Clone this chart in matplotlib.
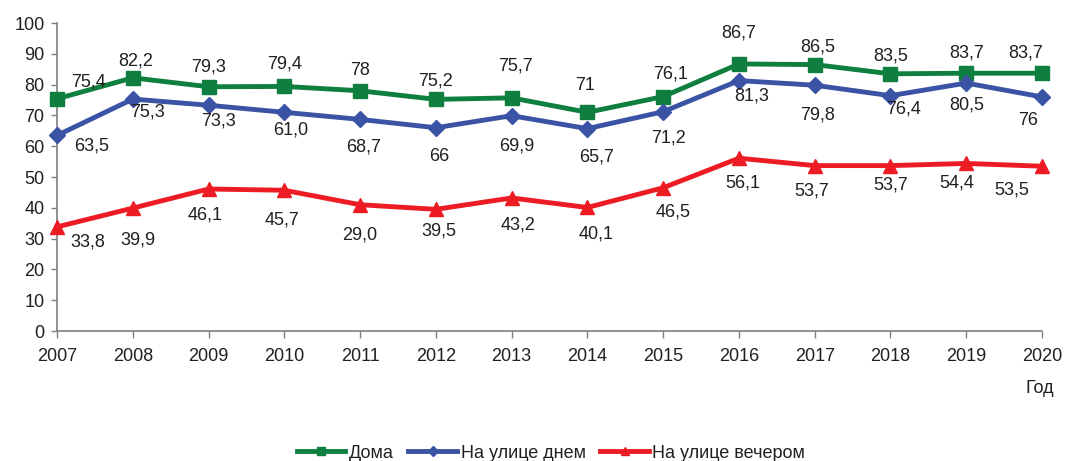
from matplotlib import pyplot as pp
from matplotlib import rc
from matplotlib.lines import Line2D

rc('font', **{'family': 'sans-serif', 'sans-serif': ['Liberation Sans', 'DejaVu Sans']})

years = [2007, 2008, 2009, 2010, 2011, 2012, 2013, 2014, 2015, 2016, 2017, 2018, 2019, 2020]

# values as plotted
home = [75.4, 82.2, 79.3, 79.4, 78.0, 75.2, 75.7, 71.0, 76.1, 86.7, 86.5, 83.5, 83.7, 83.7]
day = [63.5, 75.3, 73.3, 71.0, 68.7, 66.0, 69.9, 65.7, 71.2, 81.3, 79.8, 76.4, 80.5, 76.0]
evening = [33.8, 39.9, 46.1, 45.7, 41.0, 39.5, 43.2, 40.1, 46.5, 56.1, 53.7, 53.7, 54.4, 53.5]

# data labels as printed on the chart
homeLabels = ["75,4", "82,2", "79,3", "79,4", "78", "75,2", "75,7", "71", "76,1", "86,7", "86,5", "83,5", "83,7", "83,7"]
dayLabels = ["63,5", "75,3", "73,3", "61,0", "68,7", "66", "69,9", "65,7", "71,2", "81,3", "79,8", "76,4", "80,5", "76"]
eveningLabels = ["33,8", "39,9", "46,1", "45,7", "29,0", "39,5", "43,2", "40,1", "46,5", "56,1", "53,7", "53,7", "54,4", "53,5"]

seriesNames = ["Дома", "На улице днем", "На улице вечером"]

# label offsets in pixels (dx, dy), positive dy = up
homeOff = [(31, 17), (3, 17), (0, 20), (0, 22), (0, 20), (0, 18), (4, 32), (-2, 27), (7, 23),
           (0, 31), (3, 18), (0, 18), (0, 20), (-16, 20)]
dayOff = [(35, -11), (15, -13), (10, -16), (6, -18), (3, -28), (3, -29), (5, -30), (9, -28), (5, -26),
          (13, -15), (3, -30), (13, -13), (1, -22), (-14, -24)]
eveOff = [(31, -15), (5, -32), (-3, -26), (-2, -30), (0, -30), (3, -22), (6, -27), (9, -27), (10, -24),
          (4, -25), (-3, -25), (0, -19), (-9, -20), (-30, -24)]

green = '#0E7F3E'
blue = '#3A53A4'
red = '#ED1C24'
textColor = '#231F20'
fs = 13

fig = pp.figure(figsize=(10.67, 4.61), dpi=100)
ax = fig.add_axes([57/1067, 130/461, (1042-57)/1067, (331-23)/461])

ax.plot(years, home, color=green, linewidth=3.5, marker='s', markersize=9.5, zorder=5, clip_on=False)
ax.plot(years, day, color=blue, linewidth=3.5, marker='D', markersize=8.5, zorder=5, clip_on=False)
ax.plot(years, evening, color=red, linewidth=3.5, marker='^', markersize=10.5, zorder=5, clip_on=False)

pxToPt = 72/100.0
for vals, labs, offs in [(home, homeLabels, homeOff), (day, dayLabels, dayOff), (evening, eveningLabels, eveOff)]:
  for x, v, lab, (dx, dy) in zip(years, vals, labs, offs):
    ax.annotate(lab, (x, v), xytext=(dx*pxToPt, dy*pxToPt), textcoords='offset points',
                ha='center', va='center', fontsize=fs, color=textColor, zorder=10)

ax.set_xlim([2007, 2020])
ax.set_ylim([0, 100])
ax.set_xticks(years)
ax.set_yticks(range(0, 101, 10))
ax.tick_params(axis='both', labelsize=fs, labelcolor=textColor, color='#7F7F7F', length=4, width=1)
ax.tick_params(axis='x', pad=7, length=5)
ax.tick_params(axis='y', pad=5)

ax.spines['right'].set_visible(False)
ax.spines['top'].set_visible(False)
ax.spines['left'].set_color('#7F7F7F')
ax.spines['bottom'].set_color('#7F7F7F')
ax.spines['left'].set_linewidth(1.2)
ax.spines['bottom'].set_linewidth(1.2)

fig.text(1040/1067, 1 - 388/461, "Год", ha='center', va='center', fontsize=fs, color=textColor)

handles = [Line2D([], [], color=green, linewidth=3.5, marker='s', markersize=6),
           Line2D([], [], color=blue, linewidth=3.5, marker='D', markersize=5),
           Line2D([], [], color=red, linewidth=3.5, marker='^', markersize=6)]
fig.legend(handles, seriesNames, loc='center', bbox_to_anchor=(551/1067, 1 - 453/461), ncol=3,
           frameon=False, fontsize=fs, handlelength=2.7, handletextpad=0.2, columnspacing=0.8,
           labelcolor=textColor)

pp.savefig('out.png', dpi=100)
